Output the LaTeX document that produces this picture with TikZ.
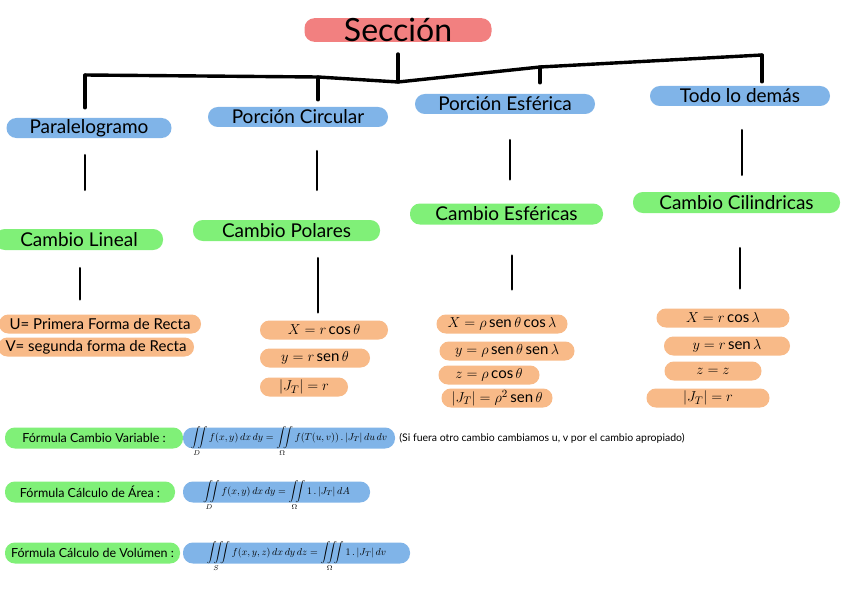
\documentclass[tikz,border=0pt]{standalone}
\usepackage{amsmath, amssymb}
\usepackage{fontspec}
\setmainfont{Lato}
\usepackage{tikz}
\usetikzlibrary{positioning, calc}
\DeclareMathOperator{\sen}{sen}
\definecolor{pillred}{RGB}{242,128,128}
\definecolor{pillblue}{RGB}{128,180,232}
\definecolor{pillgreen}{RGB}{128,240,120}
\definecolor{pillorange}{RGB}{248,186,136}

\begin{document}
\begin{tikzpicture}[x=1pt, y=-1pt,
  pill/.style={rounded corners=9.9pt, minimum height=20pt, inner sep=0pt},
  title/.style={pill, fill=pillred, font=\fontsize{32}{34}\selectfont},
  region/.style={pill, fill=pillblue, font=\fontsize{19}{21}\selectfont},
  change/.style={pill, fill=pillgreen, minimum height=21pt, font=\fontsize{19}{21}\selectfont},
  eqn/.style={pill, fill=pillorange, minimum height=19pt, rounded corners=9.4pt, font=\fontsize{15}{17}\selectfont},
  formlabel/.style={pill, fill=pillgreen, minimum height=21pt, font=\fontsize{12.5}{14}\selectfont},
  formbox/.style={pill, fill=pillblue, minimum height=21pt, font=\fontsize{10}{12}\selectfont},
  note/.style={inner sep=0pt, font=\fontsize{10.5}{12}\selectfont},
  branch/.style={line width=3.4pt, line cap=round, line join=round},
  stem/.style={line width=2.8pt, line cap=round}]
  \useasboundingbox[fill=white] (0,0) rectangle (848,599);
  % Root
  \node[title, minimum width=187] (seccion) at (398,30) {Sección};
  % Regions
  \node[region, minimum width=165] (paral) at (89,128) {Paralelogramo};
  \node[region, minimum width=180] (circ) at (298,117) {Porción Circular};
  \node[region, minimum width=180] (esf) at (505,104) {Porción Esférica};
  \node[region, minimum width=180] (todo) at (740,96) {Todo lo demás};
  % Bracket from the root to the regions
  \coordinate (j1) at (85,75);
  \coordinate (j2) at (318,77);
  \coordinate (hub) at (398,82);
  \coordinate (j4) at (540,67);
  \coordinate (j5) at (762,55);
  \draw[branch] (j1) -- (j2) -- (hub) -- (j4) -- (j5);
  \draw[branch, shorten <=12pt] (seccion.south) -- (hub);
  \draw[branch, shorten >=10pt] (j1) -- (j1 |- paral.north);
  \draw[branch, shorten >=7pt] (j2) -- (j2 |- circ.north);
  \draw[branch, shorten >=11pt] (j4) -- (j4 |- esf.north);
  \draw[branch, shorten >=4pt] (j5) -- (j5 |- todo.north);
  % Changes of variable
  \node[change, minimum width=168] (lineal) at (79,239.5) {Cambio Lineal};
  \node[change, minimum width=187] (polares) at (286.5,230.5) {Cambio Polares};
  \node[change, minimum width=193] (esfericas) at (506.5,214) {Cambio Esféricas};
  \node[change, minimum width=207] (cilind) at (736.5,202.5) {Cambio Cilindricas};
  \draw[stem, shorten <=17pt, shorten >=39pt] ([xshift=-4pt]paral.south) -- ([xshift=6pt]lineal.north);
  \draw[stem, shorten <=24pt, shorten >=30pt] ([xshift=19pt]circ.south) -- ([xshift=30.5pt]polares.north);
  \draw[stem, shorten <=26pt, shorten >=24pt] ([xshift=5pt]esf.south) -- ([xshift=3.5pt]esfericas.north);
  \draw[stem, shorten <=24pt, shorten >=17pt] ([xshift=2pt]todo.south) -- ([xshift=5.5pt]cilind.north);
  % Substitutions
  \foreach \n/\x/\y/\w/\t in {1/100/324/202/{U= Primera Forma de Recta}, 2/96/347/196/{V= segunda forma de Recta}}
    \node[eqn, minimum width=\w] (lin\n) at (\x,\y) {\t};
  \foreach \n/\x/\y/\w/\t in {1/324/330/128/{$X=r\cos\theta$}, 2/315/358/110/{$y=r\sen\theta$}, 3/304/387/88/{$|J_T|=r$}}
    \node[eqn, minimum width=\w] (pol\n) at (\x,\y) {\t};
  \foreach \n/\x/\y/\w/\t in {1/502/324/131/{$X=\rho\sen\theta\cos\lambda$}, 2/507/351/135/{$y=\rho\sen\theta\sen\lambda$}, 3/489/375/101/{$z=\rho\cos\theta$}, 4/497/398/111/{$|J_T|=\rho^2\sen\theta$}}
    \node[eqn, minimum width=\w] (esf\n) at (\x,\y) {\t};
  \foreach \n/\x/\y/\w/\t in {1/723/318/133/{$X=r\cos\lambda$}, 2/727/346/126/{$y=r\sen\lambda$}, 3/713/371/97/{$z=z$}, 4/708/398/123/{$|J_T|=r$}}
    \node[eqn, minimum width=\w] (cil\n) at (\x,\y) {\t};
  \draw[stem, shorten <=18pt, shorten >=15pt] ([xshift=1pt]lineal.south) -- ([xshift=-20pt]lin1.north);
  \draw[stem, shorten <=17pt, shorten >=8pt] ([xshift=31.5pt]polares.south) -- ([xshift=-6pt]pol1.north);
  \draw[stem, shorten <=31pt, shorten >=25pt] ([xshift=5.5pt]esfericas.south) -- ([xshift=10pt]esf1.north);
  \draw[stem, shorten <=35pt, shorten >=20pt] ([xshift=3.5pt]cilind.south) -- ([xshift=17pt]cil1.north);
  % Formulas
  \node[formlabel, minimum width=178] (cvlbl) at (94,438) {Fórmula Cambio Variable :};
  \node[formbox, minimum width=212] (cvbox) at (289,438)
    {\smash{\raisebox{-2pt}{$\displaystyle\iint\limits_D f(x,y)\,dx\,dy=\iint\limits_{\Omega} f(T(u,v))\,.\,|J_T|\,du\,dv$}}};
  \node[note, right=4pt of cvbox] (cvnote) {(Si fuera otro cambio cambiamos u, v por el cambio apropiado)};
  \node[formlabel, minimum width=170] (arealbl) at (90,492) {Fórmula Cálculo de Área :};
  \node[formbox, minimum width=187] (areabox) at (276.5,492)
    {\smash{\raisebox{-2pt}{$\displaystyle\iint\limits_D f(x,y)\,dx\,dy=\iint\limits_{\Omega} 1\,.\,|J_T|\,dA$}}};
  \node[formlabel, minimum width=175] (vollbl) at (92.5,553) {Fórmula Cálculo de Volúmen :};
  \node[formbox, minimum width=227] (volbox) at (296.5,553)
    {\smash{\raisebox{-2pt}{$\displaystyle\iiint\limits_S f(x,y,z)\,dx\,dy\,dz=\iiint\limits_{\Omega} 1\,.\,|J_T|\,dv$}}};
\end{tikzpicture}
\end{document}
